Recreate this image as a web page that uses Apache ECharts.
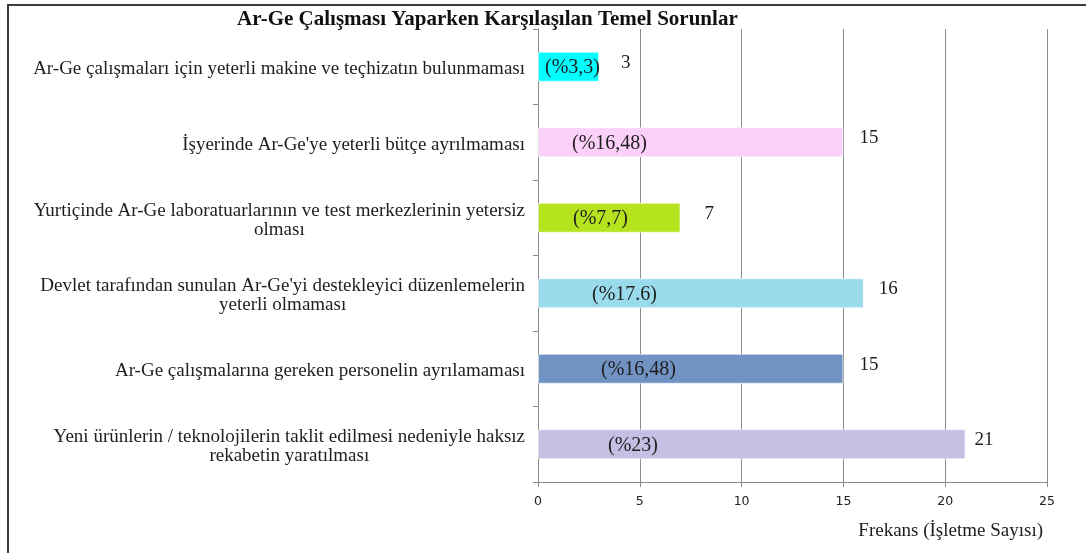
<!DOCTYPE html>
<html>
<head>
<meta charset="utf-8">
<script src="https://cdn.jsdelivr.net/npm/echarts@6/dist/echarts.min.js"></script>
<style>
  html, body { margin: 0; padding: 0; background: #ffffff; }
  #chart { width: 1086px; height: 553px; }
</style>
</head>
<body>
<div id="chart"></div>
<script>
// Problems faced while doing R&D work (top to bottom)
const categories = [
  'Ar-Ge çalışmaları için yeterli makine ve teçhizatın bulunmaması',
  'İşyerinde Ar-Ge\'ye yeterli bütçe ayrılmaması',
  'Yurtiçinde Ar-Ge laboratuarlarının ve test merkezlerinin yetersiz\nolması',
  'Devlet tarafından sunulan Ar-Ge\'yi destekleyici düzenlemelerin\nyeterli olmaması',
  'Ar-Ge çalışmalarına gereken personelin ayrılamaması',
  'Yeni ürünlerin / teknolojilerin taklit edilmesi nedeniyle haksız\nrekabetin yaratılması'
];
const frequencies = [3, 15, 7, 16, 15, 21];
const shareLabels = ['(%3,3)', '(%16,48)', '(%7,7)', '(%17.6)', '(%16,48)', '(%23)'];
const barColors = ['#00ffff', '#fcd1f9', '#b5e41e', '#9adbeb', '#7093c3', '#c6bfe4'];
const xTicks = { min: 0, max: 25, interval: 5 };

// horizontal placement of the label texts, per bar
const shareNudge = [7, 34, 35, 54, 63, 70];
const valueNudge = [14, 8, 16, 7, 8, 1];

const serif = '"Liberation Serif", "Times New Roman", serif';
const textColor = '#1e1e1e';

const chart = echarts.init(document.getElementById('chart'), null, { renderer: 'canvas' });

const option = {
  animation: false,
  backgroundColor: '#ffffff',
  title: {
    text: 'Ar-Ge Çalışması Yaparken Karşılaşılan Temel Sorunlar',
    left: 237,
    top: 9,
    padding: 0,
    textStyle: { fontFamily: serif, fontSize: 21, fontWeight: 'bold', color: '#111' }
  },
  graphic: [{
    type: 'rect',
    shape: { x: 8, y: 5, width: 1200, height: 700 },
    style: { fill: 'none', stroke: '#3c3c3c', lineWidth: 2 },
    silent: true
  }],
  grid: { left: 538, right: 39, top: 29, bottom: 71, containLabel: false },
  xAxis: {
    type: 'value',
    min: xTicks.min,
    max: xTicks.max,
    interval: xTicks.interval,
    name: 'Frekans (İşletme Sayısı)',
    nameLocation: 'end',
    nameGap: -4,
    nameTextStyle: {
      fontFamily: serif, fontSize: 19, color: textColor,
      align: 'right', verticalAlign: 'top', padding: [40, 0, 0, 0]
    },
    axisLine: { show: true, lineStyle: { color: '#8a8a8a', width: 1 } },
    axisTick: { show: true, length: 5, lineStyle: { color: '#8a8a8a' } },
    axisLabel: { margin: 13, fontFamily: '"DejaVu Sans", sans-serif', fontSize: 12.5, color: '#222' },
    splitLine: { show: true, lineStyle: { color: '#8c8c8c', width: 1 } }
  },
  yAxis: {
    type: 'category',
    data: categories,
    inverse: true,
    axisLine: { show: true, lineStyle: { color: '#8a8a8a', width: 1 } },
    axisTick: { show: true, length: 5, lineStyle: { color: '#8a8a8a' } },
    axisLabel: {
      margin: 13,
      padding: [5, 0, 0, 0],
      formatter: function (v) {
        return v.split('\n').map(function (l) { return '{c|' + l + '}'; }).join('\n');
      },
      rich: {
        c: { align: 'center', fontFamily: serif, fontSize: 19, lineHeight: 19, color: textColor }
      }
    }
  },
  series: [
    {
      type: 'bar',
      barWidth: 30,
      data: frequencies.map(function (v, i) {
        return {
          value: v,
          itemStyle: { color: barColors[i], borderColor: 'rgba(255,255,255,0.6)', borderWidth: 1 },
          label: { offset: [shareNudge[i], 1] }
        };
      }),
      label: {
        show: true,
        position: 'insideLeft',
        distance: 0,
        formatter: function (p) { return shareLabels[p.dataIndex]; },
        fontFamily: serif, fontSize: 20, color: textColor
      }
    },
    {
      type: 'bar',
      barWidth: 30,
      barGap: '-100%',
      silent: true,
      itemStyle: { color: 'rgba(0,0,0,0)' },
      data: frequencies.map(function (v, i) {
        return { value: v, label: { offset: [valueNudge[i], -4] } };
      }),
      label: {
        show: true,
        position: 'right',
        distance: 8,
        fontFamily: serif, fontSize: 19, color: textColor
      }
    }
  ]
};

chart.setOption(option);
</script>
</body>
</html>
